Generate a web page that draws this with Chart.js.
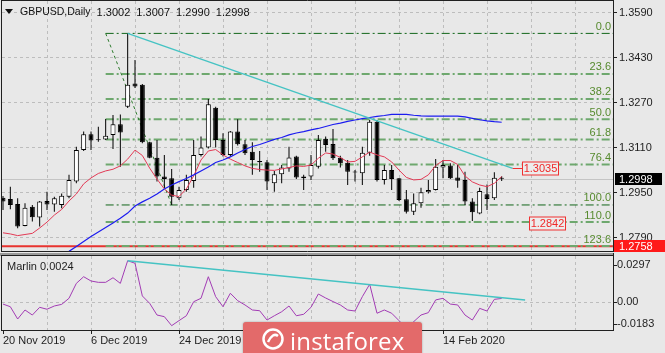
<!DOCTYPE html>
<html>
<head>
<meta charset="utf-8">
<script src="https://cdn.jsdelivr.net/npm/chart.js@4.4.1/dist/chart.umd.min.js"></script>
<style>
  html, body { margin: 0; padding: 0; background: #e8e8e8; }
  #wrap { position: relative; width: 665px; height: 353px; overflow: hidden; }
  canvas { position: absolute; left: 0; }
  #main { top: 0; }
  #sub { top: 253px; }
  #logo { position: absolute; left: 243px; top: 322px; width: 179px; height: 36px;
          background: #e36a6a; border-radius: 3px; box-shadow: 0 0 2px rgba(0,0,0,0.35); }
  #logo span { position: absolute; left: 47px; top: 2px; color: #fff;
               font: 24px "Open Sans", "Liberation Sans", sans-serif; letter-spacing: 0.2px; }
  #logo svg { position: absolute; left: 18px; top: 5px; }
</style>
</head>
<body>
<div id="wrap">
  <canvas id="main" width="665" height="253"></canvas>
  <canvas id="sub" width="665" height="100"></canvas>
  <div id="logo">
    <svg width="24" height="24" viewBox="0 0 24 24"><circle cx="12" cy="12" r="9.5" fill="none" stroke="#fff" stroke-width="2.5"/><path d="M7 15 Q12 5 17 9" fill="none" stroke="#fff" stroke-width="2.5"/></svg>
    <span>instaforex</span>
  </div>
</div>
<script>
// ---- data ----
const symbol = 'GBPUSD,Daily';
const dateLabels = ['20 Nov 2019', '6 Dec 2019', '24 Dec 2019', '13 Jan 2020', '29 Jan 2020', '14 Feb 2020'];
const dateBars = [0, 12, 24, 36, 48, 60];

const opens = [1.2931,1.2926,1.2908,1.2830,1.2899,1.2860,1.2919,1.2907,1.2905,1.2934,
  1.2988,1.3100,1.3156,1.3137,1.3138,1.3154,1.3192,1.3254,1.3337,1.3332,
  1.3128,1.3073,1.3006,1.3000,1.2929,1.2958,1.2990,1.3083,1.3109,1.3251,
  1.3136,1.3083,1.3166,1.3121,1.3094,1.3061,1.3057,1.2982,1.3014,1.3035,
  1.3077,1.3006,1.3006,1.3041,1.3140,1.3122,1.3073,1.3055,1.3023,1.3018,
  1.3091,1.3201,1.2994,1.3029,1.3000,1.2925,1.2881,1.2911,1.2950,1.2958,
  1.3038,1.3045,1.3003,1.2994,1.2917,1.2875,1.2943,1.2929,1.3002];
const highs = [1.2937,1.2970,1.2929,1.2911,1.2905,1.2919,1.2952,1.2934,1.2946,1.3012,
  1.3112,1.3166,1.3166,1.3183,1.3211,1.3225,1.3227,1.3515,1.3420,1.3335,
  1.3130,1.3136,1.3083,1.3033,1.2970,1.3012,1.3136,1.3148,1.3282,1.3254,
  1.3160,1.3168,1.3210,1.3136,1.3128,1.3097,1.3065,1.3026,1.3047,1.3112,
  1.3080,1.3012,1.3083,1.3154,1.3148,1.3175,1.3080,1.3065,1.3029,1.3112,
  1.3207,1.3207,1.3047,1.3047,1.3001,1.2958,1.2946,1.2966,1.2994,1.3068,
  1.3065,1.3053,1.3047,1.3023,1.2929,1.2966,1.2978,1.3021,1.3007];
const lows = [1.2887,1.2890,1.2822,1.2829,1.2846,1.2828,1.2887,1.2881,1.2893,1.2929,
  1.2982,1.3097,1.3100,1.3130,1.3136,1.3104,1.3041,1.3250,1.3321,1.3124,
  1.3071,1.2988,1.2964,1.2905,1.2923,1.2952,1.2966,1.3077,1.3106,1.3109,
  1.3077,1.3077,1.3116,1.3083,1.3012,1.3023,1.2958,1.2952,1.2982,1.3023,
  1.2997,1.2958,1.2994,1.3035,1.3094,1.3065,1.3038,1.2976,1.2988,1.2976,
  1.3080,1.2988,1.2978,1.2958,1.2919,1.2875,1.2869,1.2895,1.2946,1.2956,
  1.3000,1.2997,1.2966,1.2905,1.2848,1.2872,1.2887,1.2923,1.2990];
const closes = [1.2917,1.2905,1.2828,1.2895,1.2861,1.2917,1.2907,1.2929,1.2938,1.2994,
  1.3100,1.3156,1.3134,1.3135,1.3151,1.3192,1.3163,1.3332,1.3326,1.3128,
  1.3073,1.3006,1.2997,1.2934,1.2958,1.2994,1.3083,1.3109,1.3263,1.3136,
  1.3083,1.3166,1.3121,1.3089,1.3065,1.3057,1.2988,1.3014,1.3038,1.3074,
  1.3003,1.3000,1.3047,1.3136,1.3118,1.3071,1.3053,1.3023,1.3020,1.3091,
  1.3201,1.2994,1.3029,1.2997,1.2923,1.2881,1.2911,1.2950,1.2958,1.3041,
  1.3047,1.3000,1.2991,1.2917,1.2879,1.2955,1.2926,1.3002,1.2998];

const maFast = [1.2806,1.2802,1.2796,1.2800,1.2804,1.2823,1.2844,1.2869,1.2889,1.2919,
  1.2944,1.2980,1.3001,1.3017,1.3026,1.3032,1.3044,1.3068,1.3100,1.3081,
  1.3036,1.2997,1.2962,1.2940,1.2935,1.2962,1.3008,1.3065,1.3097,1.3102,
  1.3083,1.3068,1.3056,1.3044,1.3035,1.3031,1.3029,1.3028,1.3033,1.3038,
  1.3044,1.3042,1.3047,1.3071,1.3090,1.3086,1.3074,1.3058,1.3060,1.3076,
  1.3093,1.3083,1.3076,1.3058,1.3029,1.3003,1.2994,1.2996,1.3012,1.3045,
  1.3063,1.3063,1.3049,1.3008,1.2987,1.2976,1.2970,1.2982,1.3006];
const maSlow = [null,null,null,null,null,null,null,null,1.2724,1.2740,
  1.2757,1.2775,1.2793,1.2809,1.2825,1.2841,1.2858,1.2876,1.2901,1.2916,
  1.2929,1.2944,1.2962,1.2976,1.2988,1.2999,1.3012,1.3026,1.3040,1.3056,
  1.3065,1.3076,1.3090,1.3102,1.3113,1.3120,1.3129,1.3138,1.3145,1.3154,
  1.3161,1.3166,1.3172,1.3177,1.3184,1.3191,1.3196,1.3202,1.3207,1.3212,
  1.3216,1.3220,1.3223,1.3227,1.3227,1.3227,1.3224,1.3222,1.3221,1.3221,
  1.3221,1.3221,1.3221,1.3218,1.3213,1.3208,1.3204,1.3201,1.3199];

const marlin = [-0.0014,-0.0032,-0.0115,-0.0054,-0.0088,-0.0036,-0.0049,-0.0027,-0.0016,0.0025,
  0.0126,0.0171,0.0142,0.0133,0.0133,0.0164,0.0126,0.0279,0.0262,0.0041,
  -0.0009,-0.0088,-0.0099,-0.0160,-0.0126,-0.0093,0.0002,0.0025,0.0171,0.0036,
  -0.0032,0.0059,0.0009,-0.0020,-0.0054,-0.0059,-0.0122,-0.0093,-0.0066,-0.0027,
  -0.0093,-0.0083,-0.0036,0.0054,0.0027,0.0003,-0.0020,-0.0054,-0.0061,0.0036,
  0.0120,-0.0076,-0.0054,-0.0076,-0.0126,-0.0178,-0.0133,-0.0088,-0.0072,0.0014,
  0.0025,-0.0014,-0.0020,-0.0088,-0.0122,-0.0043,-0.0061,0.0018,0.0024];

const priceTicks = [1.3590, 1.3430, 1.3270, 1.3110, 1.2950, 1.2790];
const marlinTicks = [0.0297, 0.00, -0.0183];
const fibNames = ['0.0', '23.6', '38.2', '50.0', '61.8', '76.4', '100.0', '110.0', '123.6'];
const fibPrices = [1.3515, 1.3371, 1.3282, 1.3210, 1.3138, 1.3049, 1.2905, 1.2844, 1.2759];
const fibBars = [14, 23];            // anchor bars of the fib tool (high, low)
const trendBars = [17, 69.5];        // resistance line on price
const trendPrices = [1.3515, 1.3035];
const marlinTrendBars = [17, 71.2];
const marlinTrendVals = [0.0279, 0.0014];
const supportLevel = 1.2758;
const targetPrices = [1.3035, 1.2842];

// ---- chart setup ----
const X_MIN = -0.136, X_MAX = 83.18;
const FONT = '11px "Liberation Sans", Arial, sans-serif';
const lastBar = closes.length - 1;

function seg(ctx, x1, y1, x2, y2) {
  ctx.beginPath(); ctx.moveTo(x1, y1); ctx.lineTo(x2, y2); ctx.stroke();
}
function vGrid(ctx, a, x) {
  ctx.save();
  ctx.strokeStyle = '#bdbdbd'; ctx.lineWidth = 1; ctx.setLineDash([3, 3]);
  for (let b = 6; x.getPixelForValue(b) < a.right - 4; b += 6) {
    const px = Math.round(x.getPixelForValue(b)) + 0.5;
    seg(ctx, px, a.top, px, a.bottom);
  }
  ctx.restore();
}

const wickData = highs.map((h, i) => ({ x: i, y: [lows[i], h] }));
const bodyData = opens.map((o, i) => ({ x: i, y: [o, closes[i]] }));
const bodyFill = opens.map((o, i) => closes[i] >= o ? '#ffffff' : '#000000');
const toXY = (arr) => arr.map((v, i) => v === null ? null : { x: i, y: v }).filter(p => p);

const fibSets = fibPrices.map((p, k) => {
  const strong = (k === 0 || k === 6);
  return {
    type: 'line', order: 15,
    data: [{ x: fibBars[0], y: p }, { x: X_MAX, y: p }],
    borderColor: strong ? '#12661a' : '#6ea86e',
    borderWidth: strong ? 1 : 2,
    borderDash: [8, 3, 2, 3],
    pointRadius: 0
  };
});

const mainDecor = {
  id: 'mainDecor',
  beforeDatasetsDraw(chart) {
    const { ctx, chartArea: a, scales: { x, y } } = chart;
    vGrid(ctx, a, x);
    ctx.save();
    ctx.strokeStyle = '#bdbdbd'; ctx.lineWidth = 1; ctx.setLineDash([3, 3]);
    priceTicks.forEach(p => {
      const py = Math.round(y.getPixelForValue(p)) + 0.5;
      seg(ctx, a.left, py, a.right, py);
    });
    ctx.setLineDash([]);
    ctx.strokeStyle = '#c4c4c4';
    const cy = Math.round(y.getPixelForValue(closes[lastBar])) + 0.5;
    seg(ctx, a.left, cy, a.right, cy);
    ctx.restore();
  },
  afterDatasetsDraw(chart) {
    const { ctx, chartArea: a, scales: { x, y } } = chart;
    ctx.save();
    ctx.font = FONT;
    // fib level names
    ctx.fillStyle = '#568a2e'; ctx.textAlign = 'right'; ctx.textBaseline = 'bottom';
    fibPrices.forEach((p, k) => ctx.fillText(fibNames[k], a.right - 2, y.getPixelForValue(p) - 1));
    // target price labels
    ctx.textAlign = 'center'; ctx.textBaseline = 'middle';
    const boxLeft = [522, 529];
    targetPrices.forEach((p, k) => {
      const py = Math.round(y.getPixelForValue(p)) + 0.5;
      ctx.strokeStyle = '#f03030'; ctx.lineWidth = 1;
      if (k === 0) seg(ctx, x.getPixelForValue(trendBars[1]), py, boxLeft[k], py);
      ctx.fillStyle = '#ececec';
      ctx.fillRect(boxLeft[k] + 0.5, py - 6.5, 36, 13);
      ctx.strokeRect(boxLeft[k] + 0.5, py - 6.5, 36, 13);
      ctx.fillStyle = '#f02828';
      ctx.fillText(p.toFixed(4), boxLeft[k] + 18.5, py + 0.5);
    });
    ctx.restore();
  },
  afterDraw(chart) {
    const { ctx, chartArea: a, scales: { y } } = chart;
    ctx.save();
    ctx.strokeStyle = '#202020'; ctx.lineWidth = 1;
    seg(ctx, a.left - 0.5, 0, a.left - 0.5, a.bottom + 1);
    seg(ctx, a.right + 0.5, 0, a.right + 0.5, a.bottom + 1);
    seg(ctx, a.left - 1, a.bottom + 0.5, a.right + 1, a.bottom + 0.5);
    seg(ctx, a.left - 1, 0.5, a.right + 1, 0.5);
    ctx.font = FONT; ctx.textBaseline = 'middle'; ctx.textAlign = 'left';
    ctx.fillStyle = '#1e1e1e';
    priceTicks.forEach(p => {
      const py = Math.round(y.getPixelForValue(p)) + 0.5;
      seg(ctx, a.right, py, a.right + 4, py);
      ctx.fillText(p.toFixed(4), a.right + 6, py);
    });
    // current price tag
    const ly = Math.round(y.getPixelForValue(closes[lastBar]));
    ctx.fillStyle = '#000'; ctx.fillRect(a.right + 2, ly - 6, 47, 12);
    ctx.fillStyle = '#fff'; ctx.fillText(closes[lastBar].toFixed(4), a.right + 6, ly + 0.5);
    // support level tag
    const sy = Math.round(y.getPixelForValue(supportLevel));
    ctx.fillStyle = '#ff1a1a'; ctx.fillRect(a.right + 1, sy - 6, 51, 12);
    ctx.fillStyle = '#fff'; ctx.fillText(supportLevel.toFixed(4), a.right + 6, sy + 0.5);
    // title
    ctx.fillStyle = '#111';
    ctx.beginPath(); ctx.moveTo(5, 9); ctx.lineTo(13, 9); ctx.lineTo(9, 14); ctx.closePath(); ctx.fill();
    ctx.font = '10.5px "Liberation Sans", Arial, sans-serif';
    ctx.fillText(symbol, 20, 12.5);
    const ohlcX = 20 + ctx.measureText(symbol).width + 6;
    ctx.font = FONT;
    ctx.fillText([opens[lastBar], highs[lastBar], lows[lastBar], closes[lastBar]].map(v => v.toFixed(4)).join('  '), ohlcX, 12.5);
    ctx.restore();
  }
};

new Chart(document.getElementById('main'), {
  type: 'bar',
  data: {
    datasets: [
      { type: 'line', order: 20, data: [{ x: X_MIN, y: supportLevel }, { x: X_MAX, y: supportLevel }],
        borderColor: '#e8332f', borderWidth: 2, pointRadius: 0 },
      ...fibSets,
      { type: 'line', order: 14,
        data: [{ x: fibBars[0], y: fibPrices[0] }, { x: fibBars[1], y: fibPrices[6] }],
        borderColor: '#2c7a2c', borderWidth: 1, borderDash: [3, 3], pointRadius: 0 },
      { order: 10, data: wickData, backgroundColor: '#000', grouped: false, maxBarThickness: 1 },
      { order: 9, data: bodyData, backgroundColor: bodyFill, borderColor: '#000', borderWidth: 1,
        borderSkipped: false, grouped: false, maxBarThickness: 5, minBarLength: 1 },
      { type: 'line', order: 5, data: toXY(maFast), borderColor: '#e23a55', borderWidth: 1,
        pointRadius: 0, tension: 0 },
      { type: 'line', order: 4, data: toXY(maSlow), borderColor: '#1c1cf0', borderWidth: 1.2,
        pointRadius: 0, tension: 0 },
      { type: 'line', order: 3, data: trendBars.map((b, i) => ({ x: b, y: trendPrices[i] })),
        borderColor: '#45c3c3', borderWidth: 1.4, pointRadius: 0 }
    ]
  },
  options: {
    responsive: false, animation: false, devicePixelRatio: 1, events: [],
    layout: { padding: { left: 2, right: 52, top: 1, bottom: 2 } },
    plugins: { legend: { display: false }, tooltip: { enabled: false } },
    scales: {
      x: { type: 'linear', min: X_MIN, max: X_MAX, display: false, offset: false },
      y: { type: 'linear', min: 1.27413, max: 1.36302, display: false, stacked: false }
    }
  },
  plugins: [mainDecor]
});

const subDecor = {
  id: 'subDecor',
  beforeDatasetsDraw(chart) {
    const { ctx, chartArea: a, scales: { x, y } } = chart;
    vGrid(ctx, a, x);
    ctx.save();
    ctx.strokeStyle = '#bdbdbd'; ctx.setLineDash([3, 3]);
    const zy = Math.round(y.getPixelForValue(0)) + 0.5;
    seg(ctx, a.left, zy, a.right, zy);
    ctx.restore();
  },
  afterDraw(chart) {
    const { ctx, chartArea: a, scales: { x, y } } = chart;
    ctx.save();
    // separator band between windows
    ctx.fillStyle = '#9a9a9a'; ctx.fillRect(0, 0, a.right + 1, 3);
    ctx.strokeStyle = '#202020'; ctx.lineWidth = 1;
    seg(ctx, a.left - 0.5, a.top, a.left - 0.5, a.bottom + 1);
    seg(ctx, a.right + 0.5, 0, a.right + 0.5, a.bottom + 1);
    seg(ctx, a.left - 1, a.bottom + 0.5, a.right + 1, a.bottom + 0.5);
    seg(ctx, a.left - 1, a.top - 0.5, a.right + 1, a.top - 0.5);
    ctx.font = FONT; ctx.fillStyle = '#1e1e1e'; ctx.textBaseline = 'middle'; ctx.textAlign = 'left';
    marlinTicks.forEach(v => {
      let py = y.getPixelForValue(v);
      py = Math.min(Math.max(py, a.top + 9), a.bottom - 6);
      seg(ctx, a.right, Math.round(py) + 0.5, a.right + 4, Math.round(py) + 0.5);
      ctx.fillText(v === 0 ? '0.00' : v.toFixed(4), a.right + 4, py);
    });
    ctx.fillText('Marlin ' + marlin[lastBar].toFixed(4), 7, a.top + 11);
    dateBars.forEach((b, k) => {
      const px = Math.round(x.getPixelForValue(b)) + 0.5;
      seg(ctx, px, a.bottom, px, a.bottom + 4);
      ctx.fillText(dateLabels[k], px - 0.5, a.bottom + 11);
    });
    ctx.restore();
  }
};

new Chart(document.getElementById('sub'), {
  type: 'line',
  data: {
    datasets: [
      { order: 2, data: toXY(marlin), borderColor: '#a23cb4', borderWidth: 1, pointRadius: 0, tension: 0 },
      { order: 1, data: marlinTrendBars.map((b, i) => ({ x: b, y: marlinTrendVals[i] })),
        borderColor: '#45c3c3', borderWidth: 1.4, pointRadius: 0 }
    ]
  },
  options: {
    responsive: false, animation: false, devicePixelRatio: 1, events: [],
    layout: { padding: { left: 2, right: 52, top: 3, bottom: 23 } },
    plugins: { legend: { display: false }, tooltip: { enabled: false } },
    scales: {
      x: { type: 'linear', min: X_MIN, max: X_MAX, display: false },
      y: { type: 'linear', min: -0.01893, max: 0.0311, display: false }
    }
  },
  plugins: [subDecor]
});
</script>
</body>
</html>
